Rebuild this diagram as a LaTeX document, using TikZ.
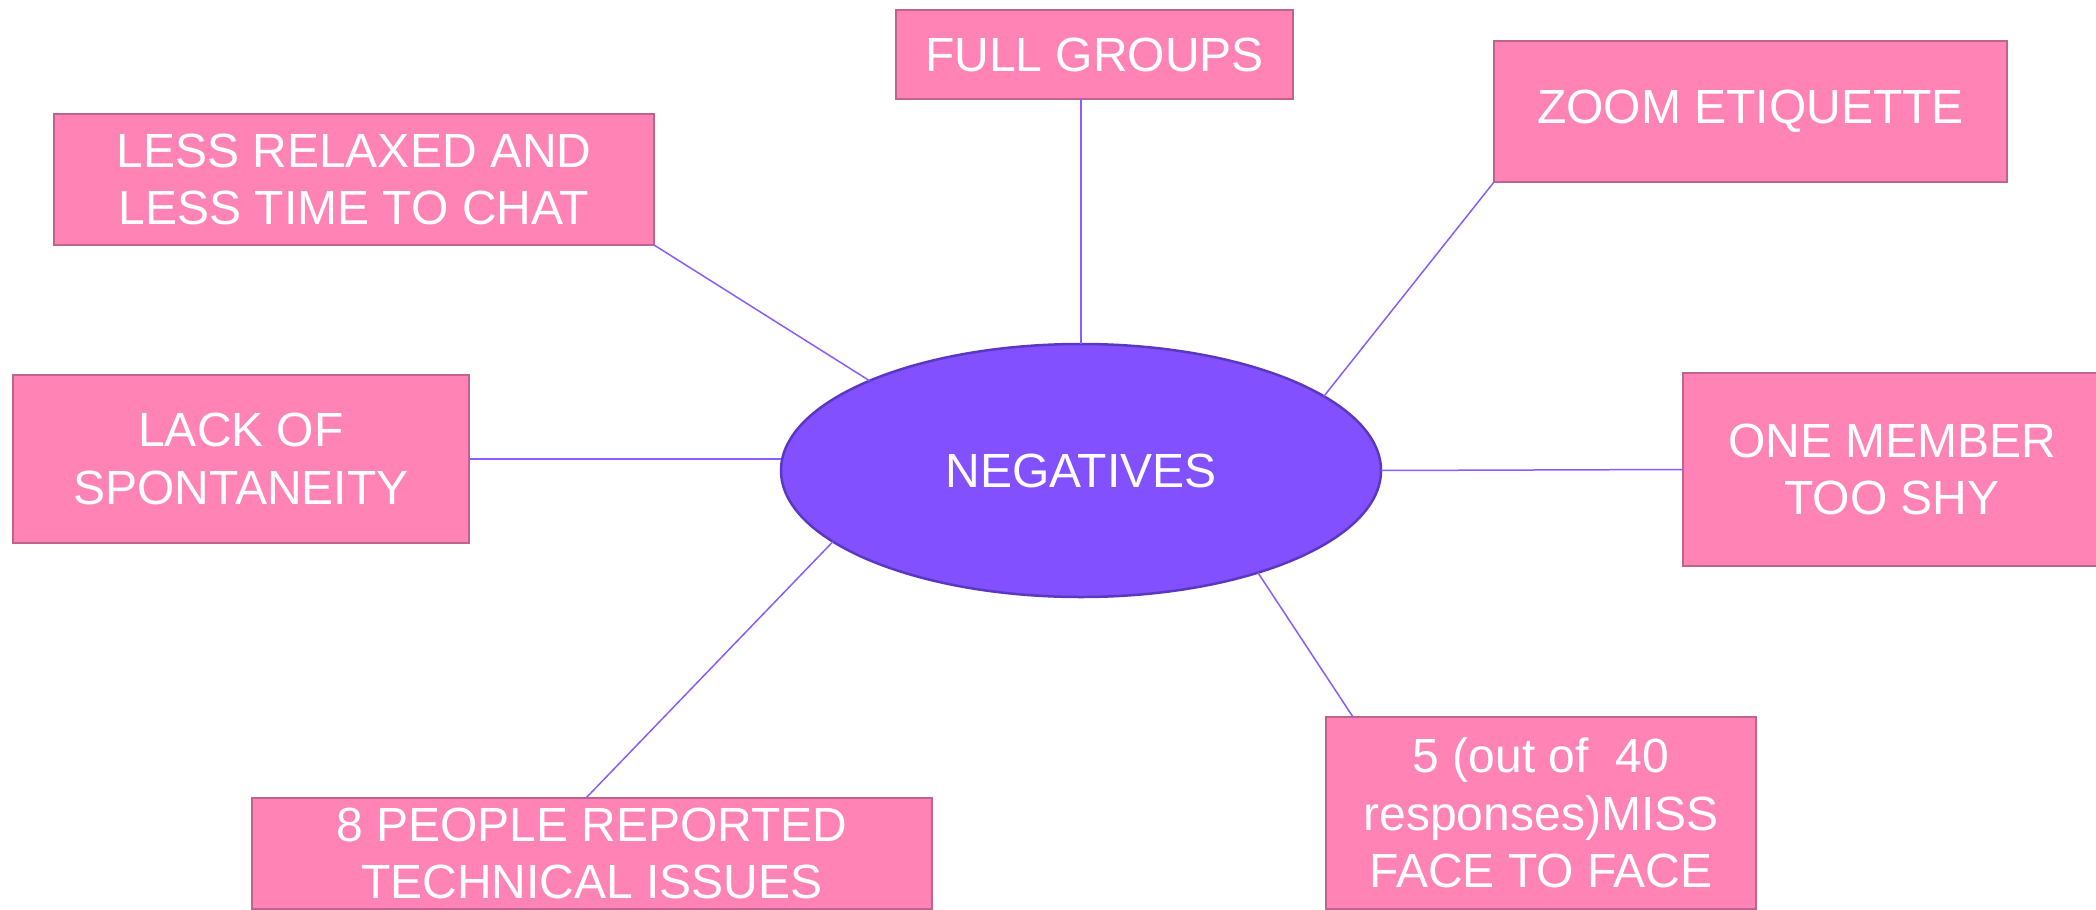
\documentclass[tikz,border=0pt]{standalone}
\usepackage{fontspec}
\setmainfont{Liberation Sans}
\usetikzlibrary{shapes.geometric}
\definecolor{boxpink}{HTML}{FF84B5}
\definecolor{boxedge}{HTML}{C0648E}
\definecolor{hubfill}{HTML}{8250FF}
\definecolor{hubedge}{HTML}{5B38C2}
\definecolor{linkline}{HTML}{8A5CFF}
\tikzset{
  idea/.style={draw=boxedge, line width=2.5pt, fill=boxpink, text=white,
    inner sep=0pt, outer sep=0pt, align=center,
    font=\fontsize{48}{57.5}\selectfont},
  hub/.style={ellipse, draw=hubedge, line width=2.5pt, fill=hubfill, text=white,
    inner sep=0pt, outer sep=0pt, minimum width=600pt, minimum height=253pt,
    font=\fontsize{48}{57.5}\selectfont},
  link/.style={draw=linkline, line width=1.5pt}
}
\begin{document}
\begin{tikzpicture}[x=1pt, y=-1pt]
                \useasboundingbox (0,0) rectangle (2096,910);

                \node[hub] (neg) at (1081,470.5) {NEGATIVES};

                \node[idea, minimum width=397pt, minimum height=89pt] (full) at (1094.5,54.5) {FULL GROUPS};

                \node[idea, minimum width=513pt, minimum height=141pt] (zoom) at (1750.5,111.5) {ZOOM ETIQUETTE};

                \node[idea, minimum width=600pt, minimum height=131pt] (less) at (354,179.5) {LESS RELAXED AND\\LESS TIME TO CHAT};

                \node[idea, minimum width=456pt, minimum height=168pt] (lack) at (241,459) {LACK OF\\SPONTANEITY};

                \node[idea, minimum width=418pt, minimum height=193pt] (shy) at (1892,469.5) {ONE MEMBER\\TOO SHY};

                \node[idea, minimum width=680pt, minimum height=111pt] (people) at (592,853.5) {8 PEOPLE REPORTED\\TECHNICAL ISSUES};

                \node[idea, minimum width=430pt, minimum height=192pt] (miss) at (1541,813) {5 (out of\ \ 40\\responses)MISS\\FACE TO FACE};

                \draw[link] (neg.north) -- (neg.north |- full.south);

                \draw[link] (neg.17.7) -- (zoom.south west);

                \draw[link] (neg.157.3) -- (less.south east);

                \draw[link] (lack.east) -- (neg.west |- lack.east);

                \draw[link] (neg.east) -- (shy.west);

                \draw[link] (neg.196.8) -- ([xshift=-6pt]people.north);

                \draw[link] (neg.330) -- ([xshift=27pt]miss.north west);
            \end{tikzpicture}
\end{document}
